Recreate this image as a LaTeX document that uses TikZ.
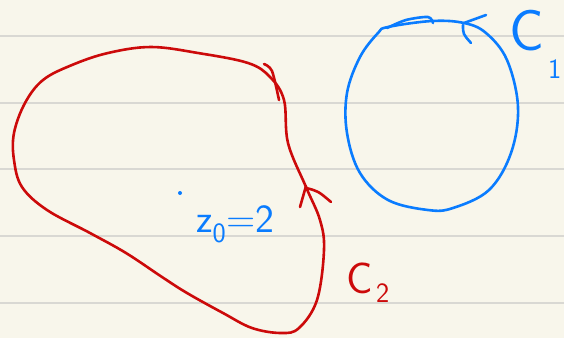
\documentclass[tikz,border=0pt]{standalone}
\usepackage{amsmath}
\usetikzlibrary{positioning}
\definecolor{paper}{HTML}{F8F6EB}
\definecolor{ruled}{HTML}{D9D8D3}
\definecolor{inkred}{HTML}{CC0A0A}
\definecolor{inkblue}{HTML}{0A7CFF}
\begin{document}
\begin{tikzpicture}[x=1pt,y=-1pt]
\tikzset{
  ruleline/.style={draw=ruled,line width=1.6pt},
  pen/.style={line width=2.6pt,line cap=round,line join=round},
  redpen/.style={pen,draw=inkred},
  bluepen/.style={pen,draw=inkblue},
  biglabel/.style={inner sep=0pt,anchor=base west,font=\sffamily\fontsize{58}{58}\selectfont},
  midlabel/.style={inner sep=0pt,anchor=base west,font=\sffamily\fontsize{44}{44}\selectfont},
  sublabel/.style={inner sep=0pt,anchor=base west,font=\sffamily\fontsize{28}{28}\selectfont},
  pointlabel/.style={inner sep=0pt,anchor=base west,font=\sffamily\fontsize{40}{40}\selectfont}
}
% paper
\fill[paper] (0,0) rectangle (564,338);
\useasboundingbox (0,0) rectangle (564,338);
\foreach \ry in {36,103,169,236,303}
  \draw[ruleline] (0,\ry) -- (564,\ry);
% contour C2
\draw[redpen] plot[smooth cycle,tension=0.6] coordinates {
  (151,47) (108,53) (72,65) (43,80) (25,103) (14,133) (14,160) (22,187)
  (47,210) (90,233) (126,253) (162,277) (187,293) (223,313) (252,328)
  (281,333) (299,328) (317,300) (324,250) (320,220) (306,187) (288,143)
  (284,100) (270,77) (248,63) (198,53)};
\draw[redpen] plot[smooth] coordinates {(264,64) (272,71) (279,100)};
\draw[redpen] (306,186) -- (300,207);
\draw[redpen] (306,188) .. controls (318,191) .. (331,202);
% contour C1
\draw[bluepen] plot[smooth cycle,tension=0.6] coordinates {
  (388,27) (432,21) (464,23) (486,33) (507,60) (518,107) (511,153)
  (489,190) (453,208) (428,210) (388,200) (360,173) (347,133) (347,93)
  (360,57) (378,33)};
\draw[bluepen] plot[smooth] coordinates {(387,28) (406,20) (428,17) (433,23)};
\draw[bluepen] (464,23) -- (486,15);
\draw[bluepen] (463,25) .. controls (463,34) .. (471,43);
% labels
\node[biglabel,text=inkblue] (c1) at (509,50) {C};
\node[sublabel,text=inkblue] (c1sub) at (548,78) {1};
\node[midlabel,text=inkred] (c2) at (346,293) {C};
\node[sublabel,text=inkred] (c2sub) at (376,302) {2};
\fill[inkblue] (180,193) circle (2);
\node[pointlabel,text=inkblue] (zpt) at (196,232) {z\textsubscript{0}=2};
\end{tikzpicture}
\end{document}
